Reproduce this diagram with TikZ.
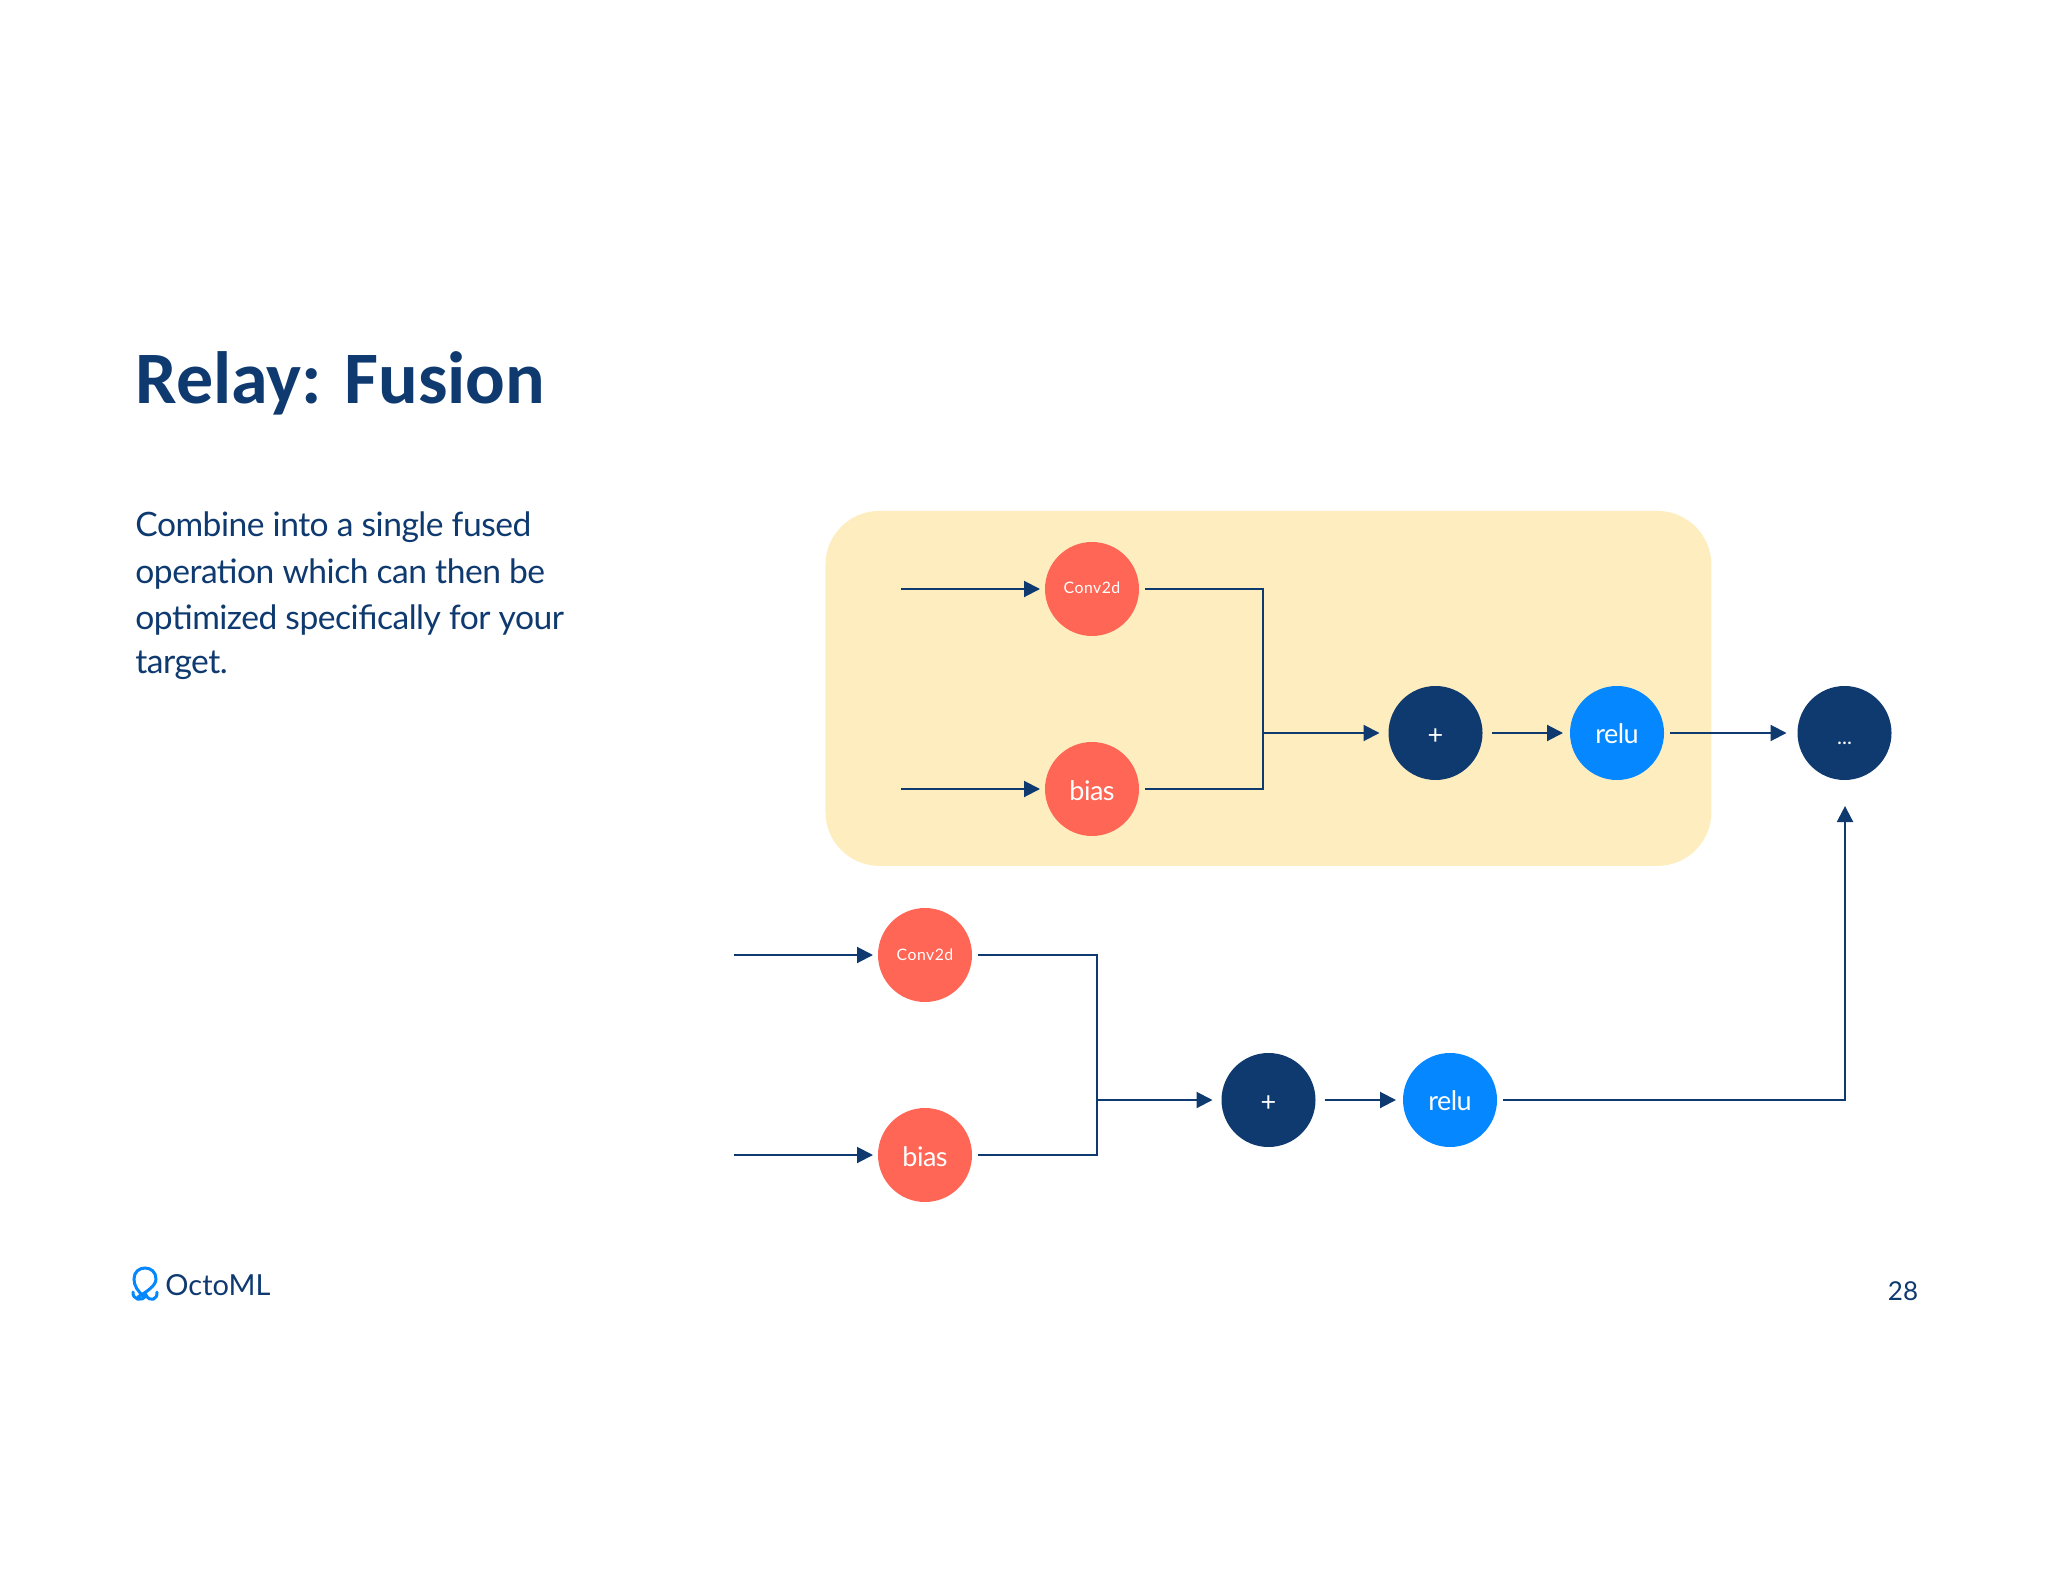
\documentclass[tikz,border=0pt]{standalone}
\usepackage{fontspec}
\setmainfont{Lato}
\newfontfamily\carlito{Carlito}
\newfontfamily\latotight[LetterSpace=-2]{Lato}
\newfontfamily\latobody[LetterSpace=-1.5]{Lato}
\newfontfamily\latowide[LetterSpace=3]{Lato}
\usetikzlibrary{arrows.meta}
\definecolor{navy}{HTML}{0F3A70}
\definecolor{coral}{HTML}{FF6655}
\definecolor{sky}{HTML}{0588FF}
\definecolor{cream}{HTML}{FEEEBF}
\tikzset{
 op/.style={circle,minimum size=47pt,inner sep=0pt,outer sep=3pt,text=white,text depth=0pt},
 opsmall/.style={op,text height=5pt,font=\latowide\fontsize{7.9}{10}\selectfont},
 opbig/.style={op,text height=10pt,font=\latotight\fontsize{13.5}{16}\selectfont},
 opbias/.style={opbig,text height=11.5pt},
 opplus/.style={op,text height=11pt,font=\fontsize{13.5}{16}\selectfont},
 opdots/.style={op,text height=11pt,font=\fontsize{10.5}{12}\selectfont},
 link/.style={draw=navy,line width=1pt},
 arrow/.style={link,-{Triangle[length=8pt,width=8pt]}},
 inarrow/.style={arrow,shorten >=-0.5pt},
 bodytext/.style={anchor=base west,inner sep=0pt,text=navy,font=\latobody\fontsize{16.8}{20}\selectfont},
}
\begin{document}
\begin{tikzpicture}[x=0.5pt,y=-0.5pt]
\useasboundingbox (0,0) rectangle (2048,1582);
\fill[white] (0,0) rectangle (2048,1582);
\node[anchor=base west,inner sep=0pt,text=navy,font=\carlito\bfseries\fontsize{37}{44}\selectfont] (title) at (135,404) {Relay: Fusion};
\node[bodytext] (l1) at (135,537) {Combine into a single fused};
\node[bodytext] (l2) at (135,583) {operation which can then be};
\node[bodytext] (l3) at (135,629) {optimized specifically for your};
\node[bodytext] (l4) at (135,673) {target.};
\node[fill=cream,rounded corners=27pt,minimum width=443pt,minimum height=177.5pt,inner sep=0pt,anchor=north west] (group) at (825,510.5) {};
% upper graph
\node[opsmall,fill=coral] (c1) at (1092,589) {Conv2d};
\node[opbias,fill=coral] (b1) at (1092,789) {bias};
\node[opplus,fill=navy] (p1) at (1435.5,733) {+};
\node[opbig,fill=sky] (r1) at (1617,733) {relu};
\node[opdots,fill=navy] (d1) at (1844.5,733) {...};
\coordinate (ic1) at (901,589);
\coordinate (ib1) at (901,789);
\coordinate (j1) at (1263,733);
\draw[inarrow] (ic1) -- (c1.west);
\draw[inarrow] (ib1) -- (b1.west);
\draw[link] (c1.east) -| (j1);
\draw[link] (b1.east) -| (j1);
\draw[arrow,shorten >=1.5pt] (j1) -- (p1.west);
\draw[arrow,shorten <=1.5pt,shorten >=0.5pt] (p1.east) -- (r1.west);
\draw[arrow,shorten >=2.5pt] (r1.east) -- (d1.west);
% lower graph
\node[opsmall,fill=coral] (c2) at (925,955) {Conv2d};
\node[opbias,fill=coral] (b2) at (925,1155) {bias};
\node[opplus,fill=navy] (p2) at (1268.5,1100) {+};
\node[opbig,fill=sky] (r2) at (1450,1100) {relu};
\coordinate (ic2) at (734,955);
\coordinate (ib2) at (734,1155);
\coordinate (j2) at (1097,1100);
\draw[inarrow] (ic2) -- (c2.west);
\draw[inarrow] (ib2) -- (b2.west);
\draw[link] (c2.east) -| (j2);
\draw[link] (b2.east) -| (j2);
\draw[arrow,shorten >=1.5pt] (j2) -- (p2.west);
\draw[arrow,shorten <=1.5pt,shorten >=0.5pt] (p2.east) -- (r2.west);
\coordinate (up) at (1845,806);
\draw[arrow] (r2.east) -| (up);
% logo
\draw[sky,line width=1.5pt,line cap=round] (143,1296) .. controls (138,1291) and (134,1286) .. (134,1279) .. controls (134,1272) and (139,1268) .. (145,1268) .. controls (151,1268) and (156,1272) .. (156,1279) .. controls (156,1286) and (146,1292) .. (138,1297) (133,1292) .. controls (132,1299) and (142,1303) .. (146,1295) .. controls (150,1303) and (158,1299) .. (157,1292);
\node[anchor=base west,inner sep=0pt,text=navy,font=\fontsize{14.5}{17}\selectfont] (logo) at (165,1295) {OctoML};
\node[anchor=base,inner sep=0pt,text=navy,font=\fontsize{13}{16}\selectfont] (page) at (1903,1300) {28};
\end{tikzpicture}
\end{document}
